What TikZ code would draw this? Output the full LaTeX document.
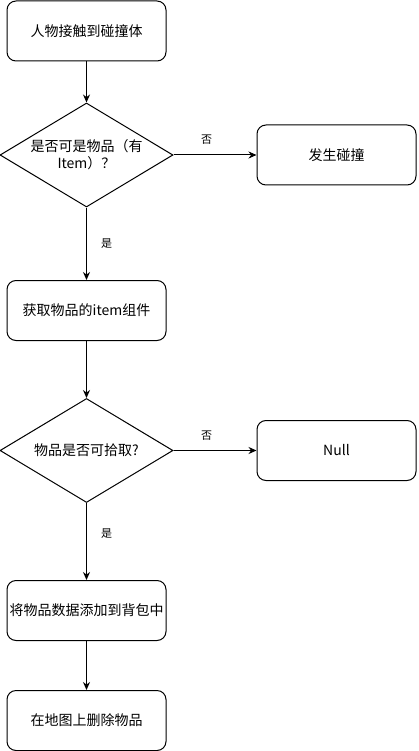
\documentclass[tikz,border=0pt]{standalone}
\usepackage{fontspec}
\setmainfont{Noto Sans CJK SC}
\usetikzlibrary{shapes.geometric,arrows.meta}
\begin{document}
\begin{tikzpicture}[x=1pt,y=-1pt,
  procbox/.style={draw,line width=1pt,rounded corners=9pt,minimum width=159pt,minimum height=60pt,inner sep=0pt,font=\fontsize{14}{17}\selectfont,align=center},
  decide/.style={draw,line width=1pt,diamond,aspect=1.66,minimum width=173pt,minimum height=104pt,inner sep=0pt,font=\fontsize{14}{17}\selectfont,align=center},
  flow/.style={line width=1pt,-{Stealth[length=8pt,width=7pt]}},
  lbl/.style={font=\fontsize{11}{13}\selectfont,inner sep=0pt}]
\useasboundingbox (0,0) rectangle (418,751);
\node[procbox] (start) at (86.5,31) {人物接触到碰撞体};
\node[decide] (d1) at (86.5,155) {是否可是物品（有\\Item）？};
\node[procbox] (hit) at (336.5,155) {发生碰撞};
\node[procbox] (get) at (86.5,310.5) {获取物品的item组件};
\node[decide] (d2) at (86.5,450.5) {物品是否可拾取?};
\node[procbox] (null) at (336.5,450.5) {Null};
\node[procbox] (add) at (86.5,610.5) {将物品数据添加到背包中};
\node[procbox] (del) at (86.5,720.5) {在地图上删除物品};
\draw[flow] (start) -- (d1);
\draw[flow] (d1) -- node[lbl,pos=0.4,above=10pt] (n1) {否} (hit);
\draw[flow] (d1) -- node[lbl,pos=0.5,right=14pt] (y1) {是} (get);
\draw[flow] (get) -- (d2);
\draw[flow] (d2) -- node[lbl,pos=0.4,above=10pt] (n2) {否} (null);
\draw[flow] (d2) -- node[lbl,pos=0.4,right=14pt] (y2) {是} (add);
\draw[flow] (add) -- (del);
\end{tikzpicture}
\end{document}
